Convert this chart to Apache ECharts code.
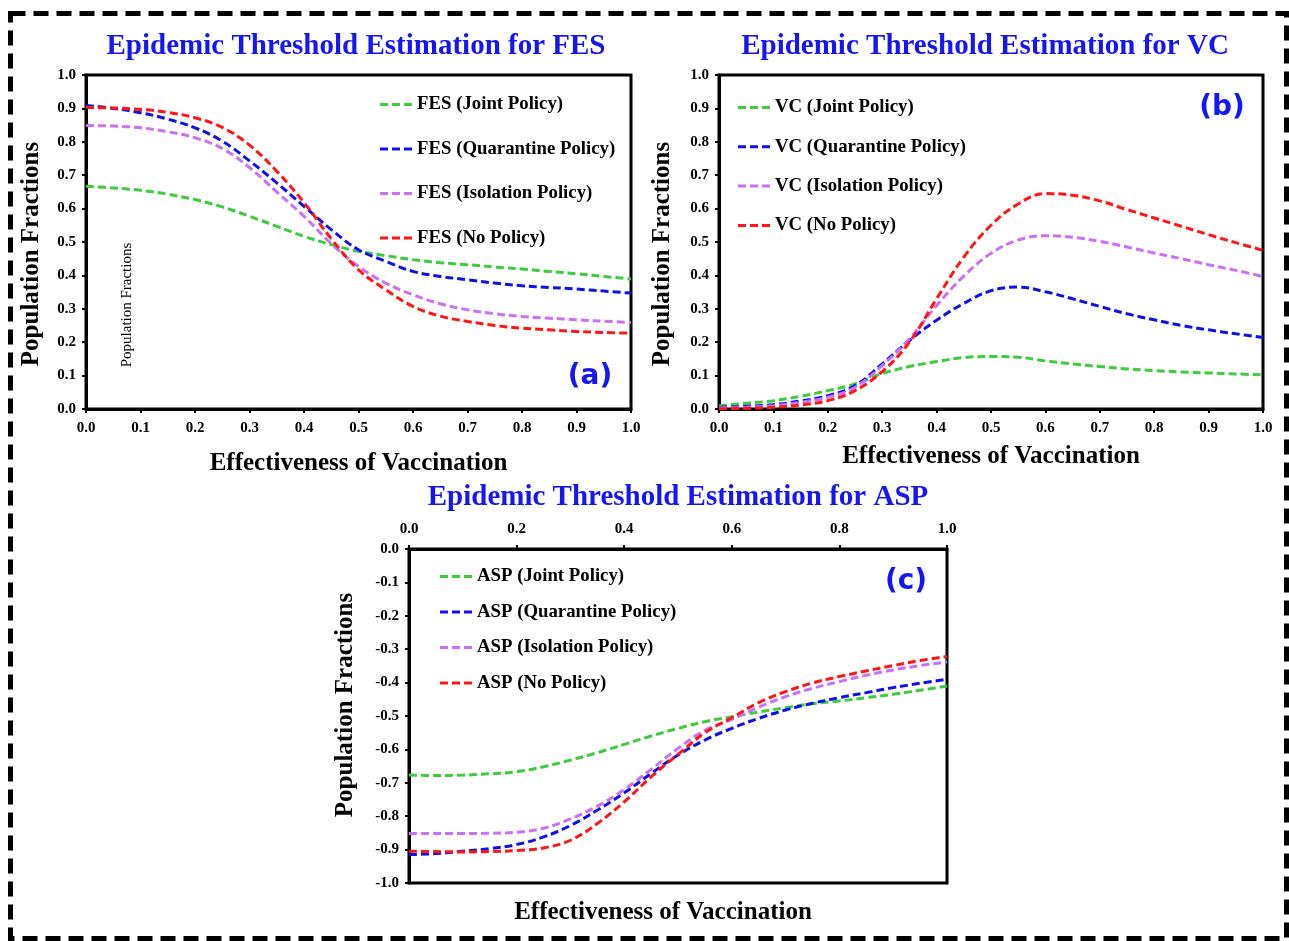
<!DOCTYPE html>
<html>
<head>
<meta charset="utf-8">
<script src="https://cdn.jsdelivr.net/npm/echarts@6/dist/echarts.min.js"></script>
<style>html,body{margin:0;padding:0;background:#fff;}#main{width:1289px;height:941px;}</style>
</head>
<body>
<div id="main"></div>
<script>
const xs = [0,0.05,0.1,0.15,0.2,0.25,0.3,0.35,0.4,0.45,0.5,0.55,0.6,0.65,0.7,0.75,0.8,0.85,0.9,0.95,1.0];

const fesJoint = [0.667,0.662,0.655,0.643,0.627,0.605,0.577,0.547,0.517,0.492,0.472,0.459,0.447,0.438,0.432,0.425,0.419,0.412,0.405,0.397,0.389];
const fesQuar  = [0.909,0.900,0.887,0.868,0.842,0.802,0.743,0.677,0.607,0.537,0.477,0.442,0.412,0.397,0.387,0.377,0.369,0.364,0.359,0.353,0.347];
const fesIso   = [0.849,0.847,0.842,0.830,0.812,0.780,0.723,0.650,0.577,0.495,0.427,0.377,0.342,0.315,0.297,0.285,0.277,0.272,0.267,0.263,0.259];
const fesNo    = [0.903,0.901,0.897,0.888,0.872,0.843,0.790,0.712,0.618,0.510,0.417,0.357,0.307,0.278,0.262,0.250,0.242,0.237,0.232,0.229,0.227];

const vcJoint = [0.010,0.017,0.025,0.038,0.055,0.075,0.106,0.127,0.142,0.154,0.157,0.155,0.144,0.135,0.127,0.120,0.115,0.111,0.108,0.105,0.102];
const vcQuar  = [0.005,0.008,0.013,0.024,0.040,0.070,0.135,0.205,0.266,0.316,0.354,0.365,0.351,0.330,0.307,0.285,0.267,0.250,0.237,0.225,0.214];
const vcIso   = [0.003,0.005,0.010,0.020,0.035,0.065,0.130,0.210,0.310,0.398,0.466,0.506,0.519,0.514,0.502,0.485,0.467,0.450,0.432,0.415,0.397];
const vcNo    = [0.000,0.002,0.005,0.012,0.025,0.055,0.112,0.200,0.330,0.455,0.550,0.614,0.645,0.640,0.623,0.597,0.572,0.547,0.522,0.498,0.475];

const aspJoint = [-0.677,-0.678,-0.677,-0.673,-0.667,-0.652,-0.632,-0.610,-0.585,-0.560,-0.537,-0.517,-0.502,-0.488,-0.475,-0.463,-0.455,-0.445,-0.435,-0.423,-0.410];
const aspQuar  = [-0.915,-0.912,-0.905,-0.897,-0.885,-0.862,-0.828,-0.782,-0.730,-0.672,-0.617,-0.572,-0.537,-0.507,-0.482,-0.462,-0.445,-0.430,-0.415,-0.402,-0.390];
const aspIso   = [-0.852,-0.852,-0.852,-0.851,-0.848,-0.836,-0.808,-0.770,-0.720,-0.660,-0.597,-0.543,-0.510,-0.473,-0.442,-0.417,-0.397,-0.378,-0.362,-0.349,-0.338];
const aspNo    = [-0.905,-0.906,-0.907,-0.906,-0.903,-0.895,-0.872,-0.822,-0.757,-0.682,-0.615,-0.550,-0.505,-0.460,-0.427,-0.401,-0.382,-0.365,-0.349,-0.334,-0.322];

const policies = ['Joint Policy','Quarantine Policy','Isolation Policy','No Policy'];
const colors = ['#3ccc3c','#1010ee','#cc70f5','#ff1515'];

const titles = ['Epidemic Threshold Estimation for FES','Epidemic Threshold Estimation for VC','Epidemic Threshold Estimation for ASP'];
const xName = 'Effectiveness of Vaccination';
const yName = 'Population Fractions';

const SERIF = '"Liberation Serif", "DejaVu Serif", serif';
const chart = echarts.init(document.getElementById('main'));

function pairs(ys){ return xs.map((x,i)=>[x, ys[i]]); }

const panels = [
  {prefix:'FES', data:[fesJoint,fesQuar,fesIso,fesNo]},
  {prefix:'VC', data:[vcJoint,vcQuar,vcIso,vcNo]},
  {prefix:'ASP', data:[aspJoint,aspQuar,aspIso,aspNo]}
];

const series = [];
panels.forEach((p,gi)=>{
  p.data.forEach((ys,k)=>{
    series.push({
      name: p.prefix + ' (' + policies[k] + ')',
      type:'line', xAxisIndex:gi, yAxisIndex:gi,
      data: pairs(ys), smooth:0.4, showSymbol:false, symbol:'none',
      lineStyle:{color:colors[k], width:3, type:[8,4]},
      itemStyle:{color:colors[k]},
      z: 3
    });
  });
});

const tickLabel = {color:'#000', fontFamily:SERIF, fontWeight:'bold', fontSize:15};
const axisLine = {show:true, onZero:false, lineStyle:{color:'#000', width:3}};
const axisTick = {show:true, inside:false, length:4, lineStyle:{color:'#000', width:2}};
const nameStyle = {color:'#000', fontFamily:SERIF, fontWeight:'bold', fontSize:25};

const dashIcon = 'path://M0,0h8v3h-8zM12,0h8v3h-8zM24,0h8v3h-8z';
function legendFor(p, left, top, gap){
  return {
    orient:'vertical', left:left, top:top, itemGap:gap,
    itemWidth:32, itemHeight:3, icon:dashIcon,
    itemStyle:{borderWidth:0},
    data: policies.map(s=>p + ' (' + s + ')'),
    textStyle:{color:'#000', fontFamily:SERIF, fontWeight:'bold', fontSize:18.8},
    selectedMode:false
  };
}

const titleStyle = {color:'#1515f5', fontFamily:SERIF, fontWeight:'bold', fontSize:29};

function vText(x, y, txt){
  return {type:'text', x:x, y:y, rotation:Math.PI/2, silent:true,
    style:{text:txt, fill:'#000', font:'bold 25px ' + SERIF, textAlign:'center', textVerticalAlign:'middle'}};
}

const option = {
  backgroundColor:'#fff',
  animation:false,
  title: [
    {text:titles[0], left:351, top:27, textAlign:'center', textStyle:titleStyle},
    {text:titles[1], left:980, top:27, textAlign:'center', textStyle:titleStyle},
    {text:titles[2], left:673, top:478, textAlign:'center', textStyle:titleStyle}
  ],
  legend: [
    legendFor('FES', 375, 90, 25.5),
    legendFor('VC', 733, 93, 20.3),
    legendFor('ASP', 435, 562, 16.5)
  ],
  grid: [
    {left:86, top:75, width:545, height:334, show:true, borderColor:'#000', borderWidth:3, backgroundColor:'transparent'},
    {left:719, top:75, width:544, height:334, show:true, borderColor:'#000', borderWidth:3, backgroundColor:'transparent'},
    {left:409, top:549, width:538, height:334, show:true, borderColor:'#000', borderWidth:3, backgroundColor:'transparent'}
  ],
  xAxis: [
    {type:'value', gridIndex:0, min:0, max:1, interval:0.1, axisLine, axisTick, splitLine:{show:false},
     axisLabel:Object.assign({margin:12, formatter:v=>v.toFixed(1)}, tickLabel),
     name:xName, nameLocation:'middle', nameGap:42, nameTextStyle:nameStyle},
    {type:'value', gridIndex:1, min:0, max:1, interval:0.1, axisLine, axisTick, splitLine:{show:false},
     axisLabel:Object.assign({margin:12, formatter:v=>v.toFixed(1)}, tickLabel),
     name:xName, nameLocation:'middle', nameGap:35, nameTextStyle:nameStyle},
    {type:'value', gridIndex:2, position:'top', min:0, max:1, interval:0.2, axisLine, axisTick, splitLine:{show:false},
     axisLabel:Object.assign({margin:12, formatter:v=>v.toFixed(1)}, tickLabel)}
  ],
  yAxis: [
    {type:'value', gridIndex:0, min:0, max:1, interval:0.1, axisLine, axisTick, splitLine:{show:false},
     axisLabel:Object.assign({margin:10, formatter:v=>v.toFixed(1)}, tickLabel)},
    {type:'value', gridIndex:1, min:0, max:1, interval:0.1, axisLine, axisTick, splitLine:{show:false},
     axisLabel:Object.assign({margin:10, formatter:v=>v.toFixed(1)}, tickLabel)},
    {type:'value', gridIndex:2, min:-1, max:0, interval:0.1, axisLine, axisTick, splitLine:{show:false},
     axisLabel:Object.assign({margin:10, formatter:v=>v.toFixed(1)}, tickLabel)}
  ],
  graphic: [
    {type:'rect', left:8, top:11, shape:{width:1276, height:925}, silent:true, z:0,
     style:{fill:'none', stroke:'#000', lineWidth:5, lineDash:[15,8]}},
    {type:'text', x:127, y:305, rotation:Math.PI/2, silent:true,
     style:{text:yName, fill:'#000', font:'15px ' + SERIF, textAlign:'center', textVerticalAlign:'middle'}},
    vText(32, 254, yName),
    vText(663, 254, yName),
    vText(346, 705, yName),
    {type:'text', x:590, y:377, silent:true,
     style:{text:'(a)', fill:'#1515f5', font:'bold 28px "DejaVu Sans", sans-serif', textAlign:'center', textVerticalAlign:'middle'}},
    {type:'text', x:1222, y:108, silent:true,
     style:{text:'(b)', fill:'#1515f5', font:'bold 28px "DejaVu Sans", sans-serif', textAlign:'center', textVerticalAlign:'middle'}},
    {type:'text', x:906, y:582, silent:true,
     style:{text:'(c)', fill:'#1515f5', font:'bold 28px "DejaVu Sans", sans-serif', textAlign:'center', textVerticalAlign:'middle'}},
    {type:'text', x:663, y:913, silent:true,
     style:{text:xName, fill:'#000', font:'bold 25px ' + SERIF, textAlign:'center', textVerticalAlign:'middle'}}
  ],
  series: series
};
chart.setOption(option);
</script>
</body>
</html>
